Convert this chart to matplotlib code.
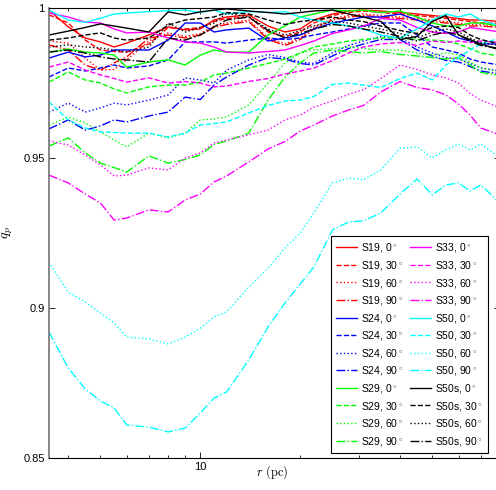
import numpy as np
import matplotlib
matplotlib.use('Agg')
import matplotlib.pyplot as plt
from matplotlib.ticker import FixedLocator, NullFormatter, FixedFormatter

plt.rcParams['font.family'] = ['Liberation Sans', 'DejaVu Sans']
plt.rcParams['mathtext.fontset'] = 'cm'

# radius grid (pc)
r = [3.5, 4, 4.5, 5, 5.5, 6, 7, 8, 9, 10, 11, 12, 14, 16, 18, 20, 22, 25, 28, 31,
     35, 40, 45, 50, 55, 60, 65, 70, 80]

# q_p per run and inclination
s19_0 = [0.9993, 0.9937, 0.990, 0.9887, 0.987, 0.9883, 0.991, 0.9937, 0.9927, 0.993, 0.996, 0.997, 0.9977, 0.994, 0.992, 0.993, 0.996, 0.998, 0.999, 0.9993, 0.999, 0.9985, 0.998, 0.9975, 0.997, 0.9965, 0.996, 0.996, 0.9955]
s19_30 = [0.9977, 0.995, 0.9893, 0.986, 0.9855, 0.9853, 0.988, 0.9935, 0.993, 0.9935, 0.9955, 0.9965, 0.997, 0.992, 0.9905, 0.992, 0.995, 0.9975, 0.9985, 0.999, 0.9985, 0.998, 0.9975, 0.997, 0.9965, 0.996, 0.9955, 0.995, 0.995]
s19_60 = [0.989, 0.9883, 0.9833, 0.9793, 0.9795, 0.9827, 0.989, 0.9917, 0.9905, 0.9915, 0.994, 0.995, 0.996, 0.990, 0.988, 0.990, 0.9935, 0.9965, 0.9975, 0.998, 0.9975, 0.997, 0.9965, 0.996, 0.9955, 0.995, 0.9945, 0.9945, 0.994]
s19_90 = [0.9877, 0.986, 0.981, 0.9793, 0.9817, 0.9837, 0.990, 0.991, 0.990, 0.991, 0.9935, 0.9945, 0.9955, 0.9895, 0.9875, 0.9895, 0.993, 0.996, 0.997, 0.9975, 0.997, 0.9965, 0.996, 0.9955, 0.995, 0.9945, 0.994, 0.994, 0.9935]

s24_0 = [0.9833, 0.9853, 0.9837, 0.9843, 0.986, 0.986, 0.986, 0.9893, 0.995, 0.995, 0.992, 0.9927, 0.9933, 0.989, 0.990, 0.991, 0.993, 0.995, 0.996, 0.997, 0.997, 0.998, 0.996, 0.994, 0.992, 0.990, 0.989, 0.988, 0.988]
s24_30 = [0.977, 0.980, 0.979, 0.980, 0.981, 0.980, 0.9807, 0.9827, 0.9887, 0.9887, 0.9887, 0.9883, 0.9893, 0.990, 0.9895, 0.990, 0.991, 0.992, 0.993, 0.994, 0.995, 0.995, 0.991, 0.987, 0.986, 0.985, 0.983, 0.982, 0.981]
s24_60 = [0.9653, 0.9683, 0.9653, 0.9667, 0.9683, 0.9677, 0.9693, 0.971, 0.9767, 0.976, 0.975, 0.9793, 0.9827, 0.9845, 0.9835, 0.982, 0.9815, 0.985, 0.9875, 0.989, 0.9905, 0.990, 0.987, 0.985, 0.9835, 0.983, 0.9815, 0.980, 0.979]
s24_90 = [0.9597, 0.9627, 0.9593, 0.9607, 0.9627, 0.962, 0.964, 0.9653, 0.9703, 0.9695, 0.9743, 0.977, 0.981, 0.9835, 0.983, 0.9815, 0.981, 0.984, 0.9865, 0.988, 0.9895, 0.9895, 0.986, 0.984, 0.9825, 0.982, 0.9805, 0.979, 0.978]

s29_0 = [0.9853, 0.9863, 0.9853, 0.985, 0.9843, 0.9803, 0.982, 0.9827, 0.981, 0.9843, 0.986, 0.9853, 0.9853, 0.991, 0.994, 0.997, 0.998, 0.9993, 0.999, 0.9993, 0.9985, 0.999, 0.997, 0.995, 0.994, 0.994, 0.995, 0.995, 0.994]
s29_30 = [0.9753, 0.9787, 0.976, 0.975, 0.973, 0.9717, 0.9737, 0.9743, 0.9743, 0.9753, 0.9777, 0.9783, 0.980, 0.9815, 0.983, 0.985, 0.987, 0.988, 0.989, 0.9895, 0.990, 0.990, 0.9895, 0.9893, 0.989, 0.988, 0.9865, 0.985, 0.984]
s29_60 = [0.961, 0.9637, 0.9617, 0.9587, 0.956, 0.9537, 0.9583, 0.9567, 0.9583, 0.9627, 0.963, 0.9637, 0.9677, 0.975, 0.9817, 0.985, 0.986, 0.9865, 0.987, 0.9865, 0.986, 0.986, 0.985, 0.9843, 0.985, 0.9845, 0.982, 0.980, 0.9787]
s29_90 = [0.954, 0.9567, 0.9517, 0.9483, 0.9468, 0.9453, 0.9507, 0.9483, 0.9495, 0.951, 0.9545, 0.9557, 0.9583, 0.9693, 0.977, 0.9817, 0.985, 0.986, 0.9855, 0.985, 0.9855, 0.9845, 0.984, 0.9835, 0.983, 0.9835, 0.981, 0.9785, 0.9775]

s33_0 = [0.9983, 0.997, 0.9953, 0.995, 0.993, 0.9917, 0.992, 0.990, 0.9887, 0.9883, 0.987, 0.9853, 0.985, 0.9855, 0.986, 0.9875, 0.989, 0.9915, 0.9927, 0.994, 0.9965, 0.996, 0.9935, 0.992, 0.9915, 0.992, 0.9935, 0.993, 0.992]
s33_30 = [0.9803, 0.982, 0.9793, 0.9777, 0.9765, 0.9753, 0.9767, 0.975, 0.9755, 0.975, 0.9737, 0.974, 0.9755, 0.9765, 0.978, 0.979, 0.980, 0.9825, 0.985, 0.987, 0.988, 0.9885, 0.9875, 0.989, 0.9885, 0.989, 0.9885, 0.989, 0.9885]
s33_60 = [0.9557, 0.9543, 0.951, 0.9477, 0.944, 0.9443, 0.9467, 0.946, 0.950, 0.9517, 0.955, 0.956, 0.9577, 0.9593, 0.9627, 0.9643, 0.967, 0.969, 0.9713, 0.9727, 0.9765, 0.981, 0.9795, 0.9777, 0.9767, 0.975, 0.9715, 0.9693, 0.9667]
s33_90 = [0.9443, 0.9417, 0.938, 0.935, 0.9293, 0.930, 0.9327, 0.932, 0.936, 0.938, 0.942, 0.944, 0.9487, 0.953, 0.9555, 0.959, 0.961, 0.964, 0.966, 0.9675, 0.972, 0.9755, 0.9735, 0.9727, 0.971, 0.968, 0.9643, 0.960, 0.9577]

s50_0 = [0.9993, 0.996, 0.9952, 0.9966, 0.998, 0.9983, 0.9988, 0.9991, 0.9993, 0.9985, 0.9993, 0.998, 0.9988, 0.9985, 0.9988, 0.997, 0.996, 0.995, 0.994, 0.993, 0.991, 0.990, 0.993, 0.996, 0.998, 0.997, 0.998, 0.996, 0.994]
s50_30 = [0.9687, 0.9627, 0.960, 0.9587, 0.9585, 0.9583, 0.9583, 0.957, 0.9583, 0.961, 0.9615, 0.962, 0.965, 0.9675, 0.969, 0.9693, 0.9705, 0.9745, 0.975, 0.9743, 0.9735, 0.9765, 0.9783, 0.976, 0.981, 0.9835, 0.986, 0.988, 0.990]
s50_60 = [0.9153, 0.9053, 0.902, 0.8983, 0.895, 0.8903, 0.8897, 0.888, 0.8903, 0.8933, 0.897, 0.8987, 0.907, 0.9133, 0.920, 0.925, 0.9317, 0.9417, 0.9433, 0.9427, 0.946, 0.9533, 0.9537, 0.950, 0.9527, 0.9547, 0.9527, 0.9547, 0.950]
s50_90 = [0.892, 0.880, 0.873, 0.869, 0.8667, 0.861, 0.8603, 0.8587, 0.860, 0.865, 0.870, 0.872, 0.8827, 0.8937, 0.9017, 0.908, 0.9137, 0.926, 0.9287, 0.929, 0.9317, 0.938, 0.943, 0.9377, 0.941, 0.9417, 0.939, 0.941, 0.935]

s50s_0 = [0.991, 0.9923, 0.9935, 0.9947, 0.994, 0.9933, 0.992, 0.9987, 0.9977, 0.9987, 0.9993, 0.9997, 0.999, 0.9985, 0.998, 0.9985, 0.999, 0.9993, 0.998, 0.997, 0.9955, 0.9895, 0.9905, 0.9955, 0.9975, 0.991, 0.9895, 0.988, 0.986]
s50s_30 = [0.9893, 0.990, 0.991, 0.9917, 0.990, 0.9893, 0.990, 0.9943, 0.996, 0.9965, 0.997, 0.9985, 0.998, 0.996, 0.9945, 0.9955, 0.996, 0.997, 0.996, 0.9955, 0.994, 0.9925, 0.9915, 0.9935, 0.994, 0.9935, 0.991, 0.9895, 0.988]
s50s_60 = [0.987, 0.9877, 0.987, 0.9867, 0.986, 0.9853, 0.987, 0.995, 0.992, 0.9935, 0.995, 0.9983, 0.997, 0.993, 0.991, 0.9925, 0.994, 0.9955, 0.995, 0.994, 0.993, 0.9915, 0.990, 0.992, 0.993, 0.992, 0.990, 0.9885, 0.9875]
s50s_90 = [0.9853, 0.986, 0.985, 0.9837, 0.983, 0.9827, 0.982, 0.990, 0.9893, 0.991, 0.9937, 0.996, 0.997, 0.9925, 0.990, 0.9915, 0.993, 0.9945, 0.994, 0.993, 0.992, 0.9905, 0.989, 0.991, 0.992, 0.991, 0.989, 0.9875, 0.9865]

runs = ['S19', 'S24', 'S29', 'S33', 'S50', 'S50s']
angles = [0, 30, 60, 90]
series = [
    [s19_0, s19_30, s19_60, s19_90],
    [s24_0, s24_30, s24_60, s24_90],
    [s29_0, s29_30, s29_60, s29_90],
    [s33_0, s33_30, s33_60, s33_90],
    [s50_0, s50_30, s50_60, s50_90],
    [s50s_0, s50s_30, s50s_60, s50s_90],
]
colors = ['#ff0000', '#0000ff', '#00ff00', '#ff00ff', '#00ffff', '#000000']
styles = ['-', '--', ':', '-.']

fig = plt.figure(figsize=(4.96, 4.90), dpi=100)
ax = fig.add_axes([49 / 496, 32 / 490, 451 / 496, 450 / 490])

for run, col, vals in zip(runs, colors, series):
    for ang, ls, y in zip(angles, styles, vals):
        ax.plot(r, y, color=col, ls=ls, lw=1.0,
                label=r'%s, %d$^\circ$' % (run, ang))

ax.set_xscale('log')
ax.set_xlim(3.5, 80)
ax.set_ylim(0.85, 1.0)

ax.xaxis.set_major_locator(FixedLocator([10]))
ax.xaxis.set_major_formatter(FixedFormatter(['10']))
ax.xaxis.set_minor_locator(FixedLocator([4, 5, 6, 7, 8, 9, 20, 30, 40, 50, 60, 70]))
ax.xaxis.set_minor_formatter(NullFormatter())
ax.set_yticks([0.85, 0.9, 0.95, 1.0])
ax.set_yticklabels(['0.85', '0.9', '0.95', '1'])

ax.tick_params(which='both', direction='in', top=True, right=True,
               labelsize=8, color='k', pad=3)
ax.tick_params(which='major', length=4, width=0.6)
ax.tick_params(which='minor', length=2.5, width=0.6)
for sp in ax.spines.values():
    sp.set_linewidth(0.8)
ax.spines['left'].set_color('0.45')
ax.spines['left'].set_linewidth(1.2)

ax.set_xlabel(r'$r\ \mathrm{(pc)}$', fontsize=9)
ax.xaxis.set_label_coords(0.495, -0.012)
ax.set_ylabel(r'$q_p$', fontsize=10, labelpad=6)

leg = ax.legend(ncol=2, loc='lower right', bbox_to_anchor=(488 / 496, 37 / 490),
                bbox_transform=fig.transFigure, fontsize=7.5, frameon=True,
                fancybox=False, framealpha=1, edgecolor='k', handlelength=2.0,
                labelspacing=0.44, columnspacing=0.6, handletextpad=0.4,
                borderpad=0.5, borderaxespad=0)
leg.get_frame().set_linewidth(0.8)

fig.savefig('out.png', dpi=100)
